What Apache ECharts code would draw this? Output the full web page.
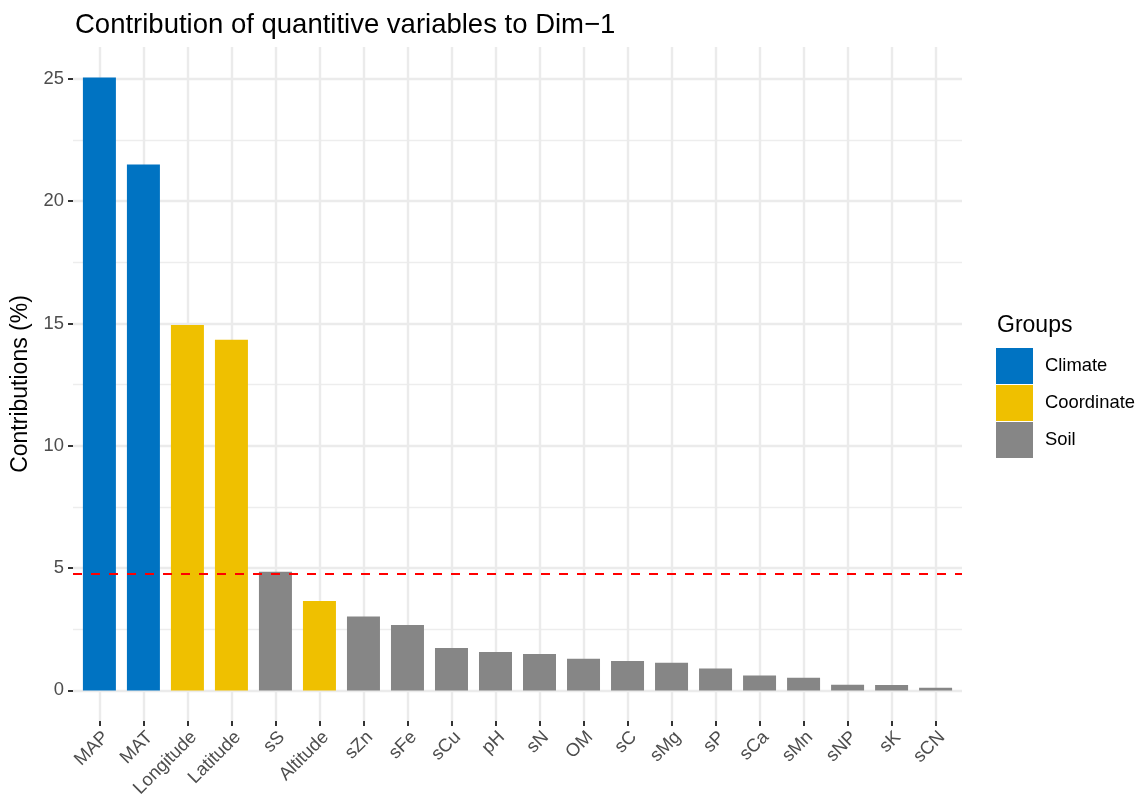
<!DOCTYPE html>
<html>
<head>
<meta charset="utf-8">
<script src="https://cdn.jsdelivr.net/npm/echarts@6/dist/echarts.min.js"></script>
<style>
html,body{margin:0;padding:0;background:#fff;}
#chart{width:1147px;height:805px;}
</style>
</head>
<body>
<div id="chart"></div>
<script>
// ---- data ----
const categories = ['MAP','MAT','Longitude','Latitude','sS','Altitude','sZn','sFe','sCu','pH','sN','OM','sC','sMg','sP','sCa','sMn','sNP','sK','sCN'];
const contributions = [25.05, 21.50, 14.94, 14.33, 4.85, 3.66, 3.02, 2.67, 1.73, 1.57, 1.49, 1.29, 1.20, 1.13, 0.90, 0.61, 0.52, 0.23, 0.22, 0.11];
const groups = ['Climate','Climate','Coordinate','Coordinate','Soil','Coordinate','Soil','Soil','Soil','Soil','Soil','Soil','Soil','Soil','Soil','Soil','Soil','Soil','Soil','Soil'];
const groupNames = ['Climate','Coordinate','Soil'];
const expectedContribution = 4.78;
const yTickValues = [0, 5, 10, 15, 20, 25];
const yMinorValues = [2.5, 7.5, 12.5, 17.5, 22.5];

// ---- styles ----
const groupColors = {Climate:'#0073C2', Coordinate:'#EFC000', Soil:'#868686'};
const FONT = "'Liberation Sans', Arial, Helvetica, sans-serif";

const catIdx = categories.map((c, i) => i);

const barSeries = groupNames.map(g => ({
  name: g,
  type: 'bar',
  barWidth: 33,
  barGap: '-100%',
  z: 3,
  itemStyle: {color: groupColors[g]},
  data: catIdx.filter(i => groups[i] === g).map(i => [i, contributions[i]])
}));

const gridSeries = {
  name: '__grid',
  type: 'line',
  data: [],
  z: 0,
  silent: true,
  markLine: {
    silent: true,
    z: 0,
    symbol: 'none',
    label: {show: false},
    animation: false,
    data: [
      ...yMinorValues.map(v => ({yAxis: v, lineStyle: {color: '#ededed', width: 1.3, type: 'solid'}})),
      ...yTickValues.map(v => ({yAxis: v, lineStyle: {color: '#ebebeb', width: 2.4, type: 'solid'}})),
      ...catIdx.map(i => ({xAxis: i, lineStyle: {color: '#ebebeb', width: 2.4, type: 'solid'}}))
    ]
  }
};

const refSeries = {
  name: '__ref',
  type: 'line',
  data: [],
  z: 10,
  silent: true,
  markLine: {
    silent: true,
    z: 10,
    symbol: 'none',
    label: {show: false},
    animation: false,
    data: [{yAxis: expectedContribution}],
    lineStyle: {color: '#FF0000', width: 2.2, type: [9, 9]}
  }
};

const option = {
  animation: false,
  backgroundColor: '#ffffff',
  textStyle: {fontFamily: FONT},
  title: [
    {text: 'Contribution of quantitive variables to Dim\u22121', left: 70, top: 6,
     textStyle: {fontFamily: FONT, fontSize: 27.5, fontWeight: 'normal', color: '#000'}},
    {text: 'Groups', left: 992, top: 309,
     textStyle: {fontFamily: FONT, fontSize: 23, fontWeight: 'normal', color: '#000'}}
  ],
  legend: {
    data: groupNames,
    orient: 'vertical',
    left: 991,
    top: 343,
    icon: 'rect',
    itemWidth: 37,
    itemHeight: 36,
    itemGap: 1,
    textStyle: {fontFamily: FONT, fontSize: 18.4, color: '#000', padding: [0, 0, 0, 7]}
  },
  grid: {left: 73, right: 185, top: 47, bottom: 84, containLabel: false},
  xAxis: {
    type: 'value',
    min: -0.6,
    max: 19.6,
    axisLine: {show: false, onZero: false},
    splitLine: {show: false},
    axisTick: {show: true, customValues: catIdx, length: 5, lineStyle: {color: '#333', width: 2}},
    axisLabel: {
      customValues: catIdx,
      formatter: v => categories[Math.round(v)],
      rotate: 45,
      verticalAlign: 'top',
      margin: 7,
      fontFamily: FONT,
      fontSize: 18.4,
      color: '#4d4d4d'
    }
  },
  yAxis: {
    type: 'value',
    min: -1.25,
    max: 26.3,
    name: 'Contributions (%)',
    nameLocation: 'middle',
    nameRotate: 90,
    nameGap: 34,
    nameTextStyle: {fontFamily: FONT, fontSize: 23, color: '#000'},
    axisLine: {show: false, onZero: false},
    splitLine: {show: false},
    axisTick: {show: true, customValues: yTickValues, length: 5, lineStyle: {color: '#333', width: 2}},
    axisLabel: {
      customValues: yTickValues,
      margin: 9,
      fontFamily: FONT,
      fontSize: 18.4,
      color: '#4d4d4d'
    }
  },
  series: [gridSeries, ...barSeries, refSeries]
};

const chart = echarts.init(document.getElementById('chart'), null, {renderer: 'canvas'});
chart.setOption(option);
</script>
</body>
</html>
